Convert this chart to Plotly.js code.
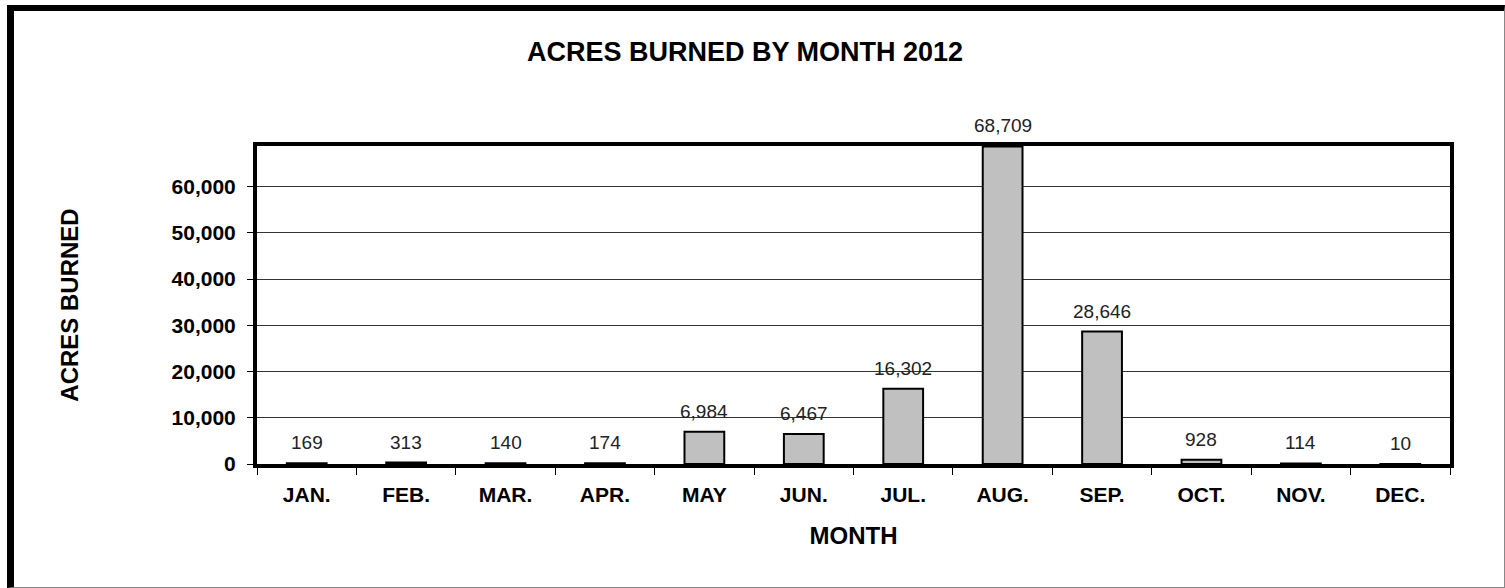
<!DOCTYPE html>
<html>
<head>
<meta charset="utf-8">
<script src="https://cdn.plot.ly/plotly-3.0.1.min.js"></script>
<style>
  html, body { margin: 0; padding: 0; background: #fff; width: 1505px; height: 588px; overflow: hidden; }
  #chart { position: absolute; left: 0; top: 0; width: 1505px; height: 588px; }
  #frame { position: absolute; left: 7px; top: 5px; width: 1498px; height: 583px; box-sizing: border-box;
           border-left: 7px solid #000; border-top: 6px solid #000; border-right: 1px solid #888; border-bottom: 1px solid #888;
           pointer-events: none; }
</style>
</head>
<body>
<div id="chart"></div>
<div id="frame"></div>
<script>
const months = ["JAN.", "FEB.", "MAR.", "APR.", "MAY", "JUN.", "JUL.", "AUG.", "SEP.", "OCT.", "NOV.", "DEC."];
const acresBurned = [169, 313, 140, 174, 6984, 6467, 16302, 68709, 28646, 928, 114, 10];
const yTickValues = [0, 10000, 20000, 30000, 40000, 50000, 60000];

const FONT = "Arial, 'Liberation Sans', sans-serif";

const trace = {
  type: "bar",
  x: months,
  y: acresBurned,
  marker: { color: "#c0c0c0", line: { color: "#000", width: 2 } },
  hoverinfo: "x+y",
  cliponaxis: true
};

const annotations = months.map((m, i) => ({
  x: m, y: acresBurned[i], xref: "x", yref: "y",
  text: acresBurned[i].toLocaleString("en-US"),
  showarrow: false, yanchor: "bottom", yshift: 8,
  font: { family: FONT, size: 19, color: "#222" }
}));

const layout = {
  width: 1505, height: 588,
  margin: { l: 257, r: 55, t: 146, b: 124 },
  paper_bgcolor: "#fff", plot_bgcolor: "#fff",
  showlegend: false,
  bargap: 0.6,
  title: {
    text: "<b>ACRES BURNED BY MONTH 2012</b>",
    font: { family: FONT, size: 27, color: "#000" },
    xref: "container", x: 0.495, xanchor: "center",
    yref: "container", y: 1 - 52 / 588, yanchor: "middle"
  },
  xaxis: {
    type: "category",
    tickson: "boundaries",
    ticks: "outside", ticklen: 7, tickwidth: 1, tickcolor: "#000",
    ticklabelstandoff: 9,
    showline: true, linecolor: "#000", linewidth: 4, mirror: true,
    showgrid: false, zeroline: false,
    tickfont: { family: FONT, size: 21, color: "#000", weight: "bold" },
    title: { text: "<b>MONTH</b>", font: { family: FONT, size: 24, color: "#000" }, standoff: 23 }
  },
  yaxis: {
    range: [0, 68800],
    tickvals: yTickValues,
    tickformat: ",",
    ticks: "outside", ticklen: 6, tickwidth: 1, tickcolor: "#000",
    ticklabelstandoff: 7,
    showline: true, linecolor: "#000", linewidth: 4, mirror: true,
    showgrid: true, gridcolor: "#333", gridwidth: 1,
    zeroline: false,
    tickfont: { family: FONT, size: 21, color: "#000", weight: "bold" },
    title: { text: "<b>ACRES BURNED</b>", font: { family: FONT, size: 24, color: "#000" }, standoff: 87 }
  },
  annotations: annotations
};

Plotly.newPlot("chart", [trace], layout, { displayModeBar: false, staticPlot: true });
</script>
</body>
</html>
